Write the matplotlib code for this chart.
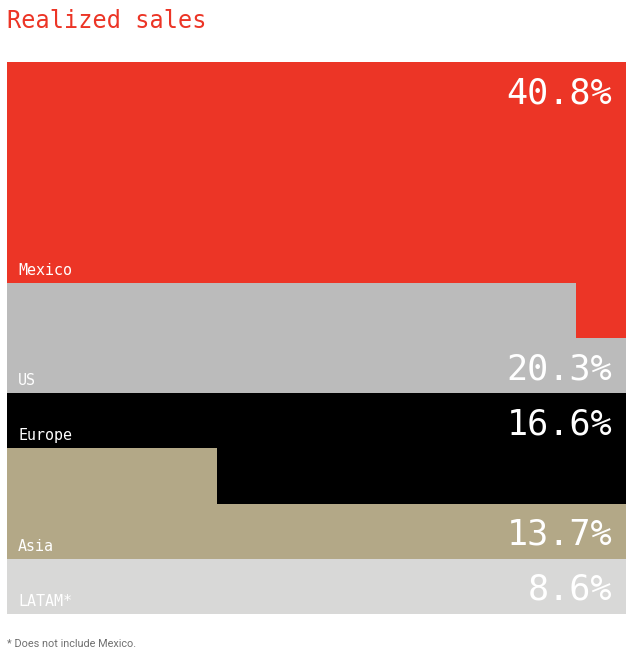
import matplotlib
matplotlib.use('Agg')
import matplotlib.pyplot as plt
from matplotlib.patches import Polygon
from matplotlib.transforms import offset_copy

# ---- data ----
categories = ['Mexico', 'US', 'Europe', 'Asia', 'LATAM*']
shares = [40.8, 20.3, 16.6, 13.7, 8.6]
value_labels = ['40.8%', '20.3%', '16.6%', '13.7%', '8.6%']
title = 'Realized sales'
footnote = '* Does not include Mexico.'

colors = ['#EC3526', '#BBBBBB', '#000000', '#B3A887', '#D8D8D7']

ROW = 10.0    # percent represented by one full row
NROWS = 10


def layout(values):
    """Fill rows top-down; a category's remainder spills to the right end of
    the next row, and the following category completes that row."""
    out = []
    r = 0
    pending = 0.0
    for i, v in enumerate(values):
        last = i == len(values) - 1
        if pending > 0:
            left = ROW - pending
            rem = v - left
            n = (NROWS - r - 1) if last else int(round(rem / ROW))
            poly = [(0, r), (left, r), (left, r + 1), (ROW, r + 1),
                    (ROW, r + 1 + n), (0, r + 1 + n)]
            label_row = r + n + 1
            value_row = r + 1 if n > 0 else r
            r = r + 1 + n
            pending = 0.0
        else:
            if last:
                n = NROWS - r
                spill = 0.0
            else:
                n = int(v // ROW)
                spill = v - n * ROW
            if spill > 0:
                poly = [(0, r), (ROW, r), (ROW, r + n + 1), (ROW - spill, r + n + 1),
                        (ROW - spill, r + n), (0, r + n)]
            else:
                poly = [(0, r), (ROW, r), (ROW, r + n), (0, r + n)]
            label_row = r + n
            value_row = r
            r = r + n
            pending = spill
        out.append((poly, label_row, value_row))
    return out


fig = plt.figure(figsize=(6.31, 6.52), dpi=100)
W, H = 631, 652
ax = fig.add_axes([7 / W, (H - 614) / H, 619 / W, 552 / H])
ax.set_xlim(0, ROW)
ax.set_ylim(NROWS, 0)
ax.axis('off')

mono = 'DejaVu Sans Mono'
for (poly, label_row, value_row), name, lab, col in zip(layout(shares), categories,
                                                        value_labels, colors):
    ax.add_patch(Polygon(poly, closed=True, facecolor=col, edgecolor='none',
                         linewidth=0))
    ax.text(0, label_row, name, family=mono, fontsize=10.8, color='white',
            ha='left', va='baseline',
            transform=offset_copy(ax.transData, fig, x=11, y=8, units='dots'))
    ax.text(ROW, value_row, lab, family=mono, fontsize=25.3, color='white',
            ha='right', va='baseline',
            transform=offset_copy(ax.transData, fig, x=-14, y=-41, units='dots'))

fig.text(7 / W, 1 - 28 / H, title, family=mono, fontsize=17, color='#EC3526',
         ha='left', va='baseline')
fig.text(7 / W, 1 - 647 / H, footnote, family='Roboto', fontsize=7.8,
         color='#707070', ha='left', va='baseline')

fig.savefig('out.png', dpi=100)
